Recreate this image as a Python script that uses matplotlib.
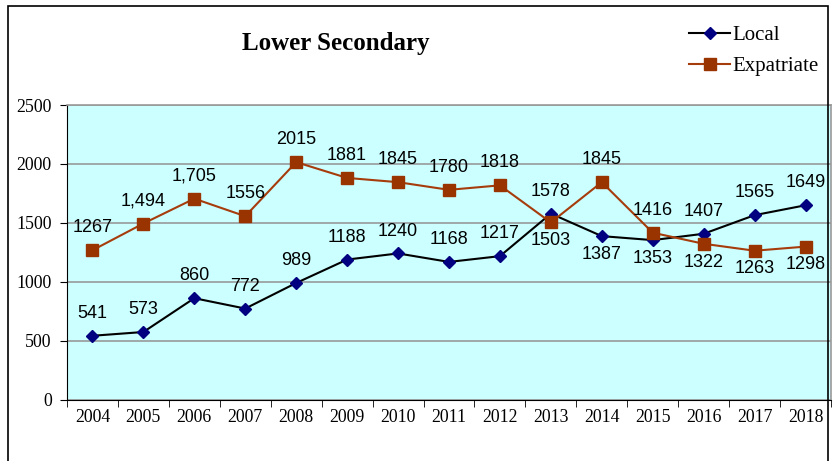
import numpy as np
import matplotlib.pyplot as plt
from matplotlib.patches import Rectangle

# data
years = ['2004', '2005', '2006', '2007', '2008', '2009', '2010', '2011',
         '2012', '2013', '2014', '2015', '2016', '2017', '2018']
local = [541, 573, 860, 772, 989, 1188, 1240, 1168, 1217, 1578, 1387, 1353, 1407, 1565, 1649]
expat = [1267, 1494, 1705, 1556, 2015, 1881, 1845, 1780, 1818, 1503, 1845, 1416, 1322, 1263, 1298]
local_txt = [str(v) for v in local]
expat_txt = ['1267', '1,494', '1,705', '1556', '2015', '1881', '1845', '1780',
             '1818', '1503', '1845', '1416', '1322', '1263', '1298']
# label above (1) or below (-1) the point
local_pos = [1, 1, 1, 1, 1, 1, 1, 1, 1, 1, -1, -1, 1, 1, 1]
expat_pos = [1, 1, 1, 1, 1, 1, 1, 1, 1, -1, 1, 1, -1, -1, -1]

serif = ['Liberation Serif', 'DejaVu Serif']
sans = ['Liberation Sans', 'DejaVu Sans']

fig = plt.figure(figsize=(8.34, 4.61), dpi=100)
ax = fig.add_axes([0.0803, 0.1334, 0.9161, 0.6388])
ax.set_facecolor('#CCFFFF')

x = np.arange(len(years))
ax.plot(x, local, color='black', lw=1.5, marker='D', markersize=6.5,
        markerfacecolor='#000080', markeredgecolor='#000080', label='Local', zorder=3)
ax.plot(x, expat, color='#A63C0C', lw=1.5, marker='s', markersize=8.5,
        markerfacecolor='#993300', markeredgecolor='#993300', label='Expatriate', zorder=3)

for xs, vals, txt, pos in [(x, local, local_txt, local_pos), (x, expat, expat_txt, expat_pos)]:
    for xi, v, t, p in zip(xs, vals, txt, pos):
        if p > 0:
            ax.annotate(t, (xi, v), xytext=(0, 10), textcoords='offset points',
                        ha='center', va='bottom', fontsize=13, family=sans, zorder=4)
        else:
            ax.annotate(t, (xi, v), xytext=(0, -7), textcoords='offset points',
                        ha='center', va='top', fontsize=13, family=sans, zorder=4)

ax.set_xlim(-0.5, 14.5)
ax.set_ylim(0, 2500)
ax.set_yticks(np.arange(0, 2501, 500))
ax.set_xticks(x)
ax.set_xticklabels(years, family=serif, fontsize=12.8)
ax.set_xticks(np.arange(-0.5, 15, 1), minor=True)
ax.tick_params(axis='x', which='major', length=0, pad=7)
ax.tick_params(axis='x', which='minor', length=5, direction='out', color='black')
ax.tick_params(axis='y', length=5, direction='out', pad=6)
for lab in ax.get_yticklabels():
    lab.set_family(serif)
    lab.set_fontsize(12.8)
ax.yaxis.grid(True, color='#999999', lw=1.2)
ax.set_axisbelow(True)
for s in ['top', 'right']:
    ax.spines[s].set_color('#999999')
    ax.spines[s].set_linewidth(1.2)
ax.spines['left'].set_color('black')
ax.spines['bottom'].set_color('black')

fig.text(0.403, 0.905, 'Lower Secondary', ha='center', va='center',
         fontsize=18, fontweight='bold', family=serif)

fig.legend(loc='upper left', bbox_to_anchor=(0.804, 0.985), frameon=False,
           prop={'family': serif, 'size': 15}, handlelength=1.95,
           handletextpad=0.1, labelspacing=0.55)

# outer frame
fig.patches.append(Rectangle((0.0096, -0.1), 0.9928 - 0.0096, 1.087, transform=fig.transFigure,
                             fill=False, edgecolor='black', lw=1.2))

fig.savefig('out.png', dpi=100)
